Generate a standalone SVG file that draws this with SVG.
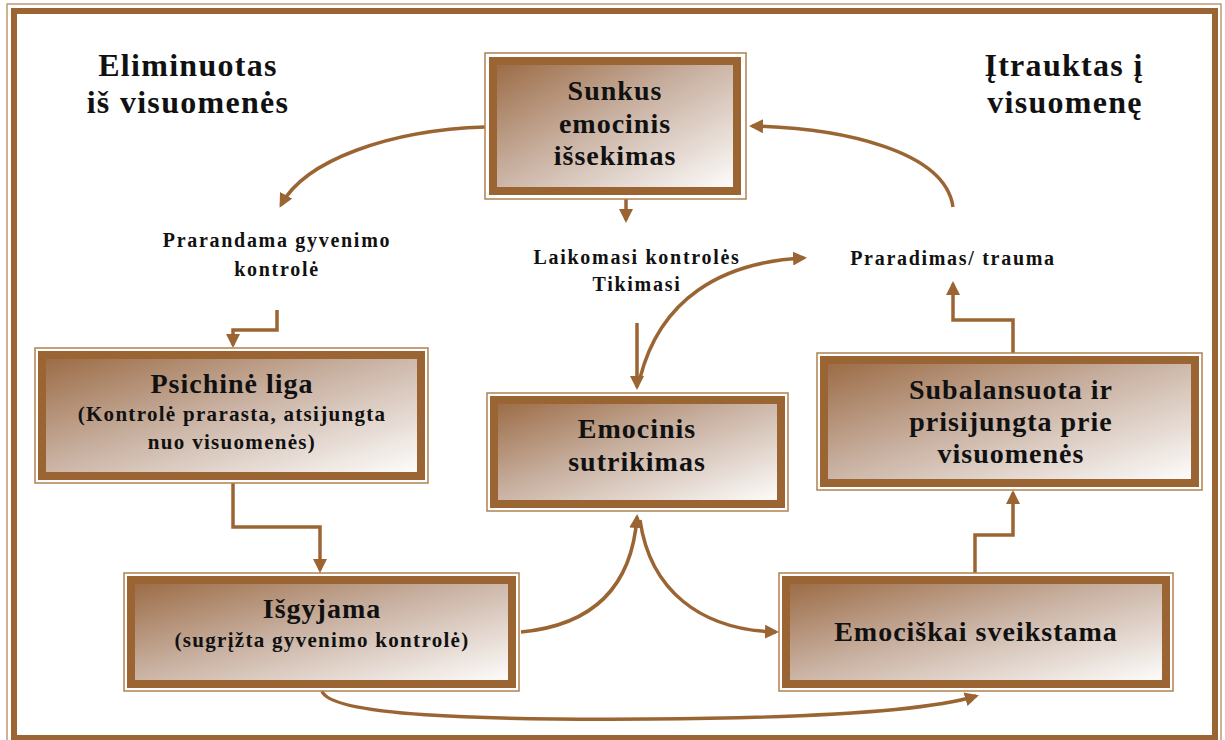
<svg xmlns="http://www.w3.org/2000/svg" width="1225" height="740" viewBox="0 0 1225 740">
  <defs>
    <linearGradient id="boxFill" x1="0" y1="0" x2="1" y2="1">
      <stop offset="0" stop-color="#9a6942"/>
      <stop offset="0.45" stop-color="#c8b0a0"/>
      <stop offset="1" stop-color="#ffffff"/>
    </linearGradient>
    <marker id="arrow" viewBox="0 0 14 14" refX="11" refY="7" markerWidth="14" markerHeight="14" markerUnits="userSpaceOnUse" orient="auto">
      <path d="M0,0 L14,7 L0,14 z" fill="#9b6533"/>
    </marker>
    <style>
      .outer { fill: none; stroke: #b0804f; stroke-width: 1.5; }
      .inner { fill: url(#boxFill); stroke: #9b6533; stroke-width: 8; }
      .title { font-family: "Liberation Serif", "Times New Roman", serif; font-weight: bold; font-size: 28px; letter-spacing: 1px; fill: #111; text-anchor: middle; }
      .sub { font-family: "Liberation Serif", "Times New Roman", serif; font-weight: bold; font-size: 21px; letter-spacing: 1.3px; fill: #111; text-anchor: middle; }
      .label { font-family: "Liberation Serif", "Times New Roman", serif; font-weight: bold; font-size: 20px; letter-spacing: 1.7px; fill: #111; text-anchor: middle; }
      .head { font-family: "Liberation Serif", "Times New Roman", serif; font-weight: bold; font-size: 32px; letter-spacing: 1.3px; fill: #111; text-anchor: middle; }
      .conn { fill: none; stroke: #9b6533; stroke-width: 3.5; }
    </style>
  </defs>

  <rect width="1225" height="740" fill="#ffffff"/>

  <!-- page frame -->
  <g id="frame">
    <rect x="7" y="4" width="1214" height="745" fill="none" stroke="#b0804f" stroke-width="1.2"/>
    <rect x="14" y="11" width="1201" height="727" fill="none" stroke="#9b6533" stroke-width="6"/>
  </g>

  <!-- headings -->
  <g id="heading-left">
    <text class="head" x="188" y="76">Eliminuotas</text>
    <text class="head" x="188" y="113">iš visuomenės</text>
  </g>
  <g id="heading-right">
    <text class="head" x="1064" y="76">Įtrauktas į</text>
    <text class="head" x="1065" y="113">visuomenę</text>
  </g>

  <!-- connectors -->
  <g id="connectors">
    <path class="conn" d="M485,127 C390,130 305,160 281,205" marker-end="url(#arrow)"/>
    <path class="conn" d="M626,199 L626,220" stroke-width="3" marker-end="url(#arrow)"/>
    <path class="conn" d="M637,323 L637,387" marker-end="url(#arrow)"/>
    <path class="conn" d="M640,378 C660,300 720,262 804,258" marker-end="url(#arrow)"/>
    <path class="conn" d="M953,207 C945,150 840,128 752,126" marker-end="url(#arrow)"/>
    <path class="conn" d="M1013,353 L1013,320 L953,320 L953,284" stroke-width="3" marker-end="url(#arrow)"/>
    <path class="conn" d="M277,310 L277,330 L233,330 L233,345" stroke-width="3" marker-end="url(#arrow)"/>
    <path class="conn" d="M233,483 L233,527 L320,527 L320,570" stroke-width="3" marker-end="url(#arrow)"/>
    <path class="conn" d="M521,632 C595,625 632,585 637,517" marker-end="url(#arrow)"/>
    <path class="conn" d="M640,520 C650,590 700,630 776,632" marker-end="url(#arrow)"/>
    <path class="conn" d="M975,573 L975,535 L1013,535 L1013,493" stroke-width="3" marker-end="url(#arrow)"/>
    <path class="conn" d="M322,691 C330,716 480,720 650,719 C820,718 930,710 976,696" marker-end="url(#arrow)"/>
  </g>

  <!-- connector labels -->
  <g id="label-prarandama">
    <text class="label" x="277" y="247">Prarandama gyvenimo</text>
    <text class="label" x="277" y="276">kontrolė</text>
  </g>
  <g id="label-laikomasi">
    <text class="label" x="637" y="264">Laikomasi kontrolės</text>
    <text class="label" x="637" y="291">Tikimasi</text>
  </g>
  <g id="label-praradimas">
    <text class="label" x="953" y="265">Praradimas/ trauma</text>
  </g>

  <!-- nodes -->
  <g id="node-sunkus">
    <rect class="outer" x="485" y="53" width="261" height="146"/>
    <rect class="inner" x="493" y="61" width="244" height="130"/>
    <text class="title" x="615" y="100">Sunkus</text>
    <text class="title" x="615" y="133">emocinis</text>
    <text class="title" x="615" y="165">išsekimas</text>
  </g>

  <g id="node-psichine">
    <rect class="outer" x="35" y="348" width="393" height="135"/>
    <rect class="inner" x="42" y="355" width="379" height="121"/>
    <text class="title" x="232" y="393">Psichinė liga</text>
    <text class="sub" x="232" y="421">(Kontrolė prarasta, atsijungta</text>
    <text class="sub" x="232" y="449">nuo visuomenės)</text>
  </g>

  <g id="node-sutrikimas">
    <rect class="outer" x="487" y="393" width="301" height="118"/>
    <rect class="inner" x="494" y="400" width="287" height="104"/>
    <text class="title" x="637" y="438">Emocinis</text>
    <text class="title" x="637" y="471">sutrikimas</text>
  </g>

  <g id="node-subalansuota">
    <rect class="outer" x="817" y="353" width="385" height="137"/>
    <rect class="inner" x="824" y="360" width="371" height="123"/>
    <text class="title" x="1011" y="399">Subalansuota ir</text>
    <text class="title" x="1011" y="431">prisijungta prie</text>
    <text class="title" x="1011" y="463">visuomenės</text>
  </g>

  <g id="node-isgyjama">
    <rect class="outer" x="124" y="573" width="395" height="118"/>
    <rect class="inner" x="131" y="580" width="381" height="104"/>
    <text class="title" x="322" y="618">Išgyjama</text>
    <text class="sub" x="322" y="647">(sugrįžta gyvenimo kontrolė)</text>
  </g>

  <g id="node-sveikstama">
    <rect class="outer" x="779" y="573" width="394" height="118"/>
    <rect class="inner" x="786" y="580" width="380" height="104"/>
    <text class="title" x="976" y="641">Emociškai sveikstama</text>
  </g>
</svg>
